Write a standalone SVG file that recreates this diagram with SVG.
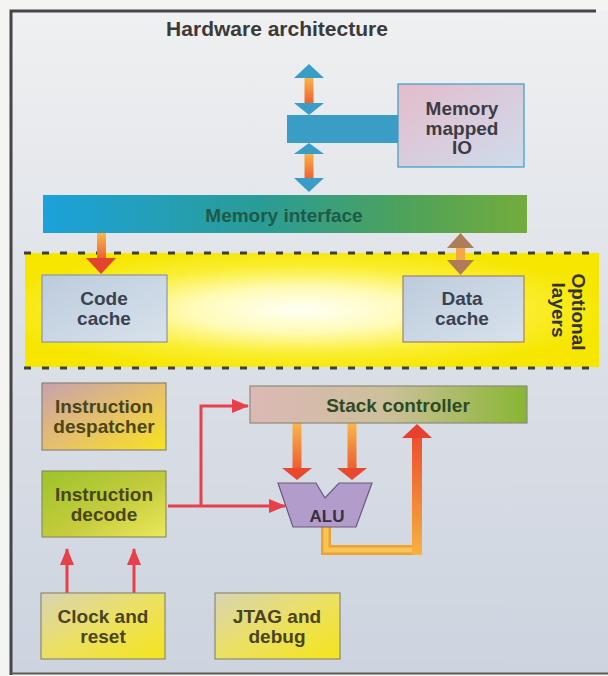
<svg xmlns="http://www.w3.org/2000/svg" width="608" height="676" viewBox="0 0 608 676">
  <style>
    text { font-family: "Liberation Sans", Arial, sans-serif; font-weight: bold; text-anchor: middle; }
    .lbl { font-size: 19px; }
    .box { stroke-width: 1.2; }
    .red { fill: none; stroke: #e8404a; stroke-width: 3; }
    .dash { fill: none; stroke: #3e3e3a; stroke-width: 3.2; stroke-dasharray: 7 11; }
  </style>
  <defs>
    <linearGradient id="bg" x1="0" y1="0" x2="0" y2="1">
      <stop offset="0" stop-color="#eff0f1"/>
      <stop offset="0.5" stop-color="#dce0e7"/>
      <stop offset="1" stop-color="#cdd4df"/>
    </linearGradient>
    <radialGradient id="band" cx="0.48" cy="0.5" r="0.55">
      <stop offset="0" stop-color="#fffff6"/>
      <stop offset="0.35" stop-color="#fffbb8"/>
      <stop offset="0.7" stop-color="#faee30"/>
      <stop offset="1" stop-color="#f6e600"/>
    </radialGradient>
    <linearGradient id="memIf" x1="0" y1="0" x2="1" y2="0">
      <stop offset="0" stop-color="#1ca2da"/>
      <stop offset="0.45" stop-color="#2a9c96"/>
      <stop offset="0.75" stop-color="#4ea25a"/>
      <stop offset="1" stop-color="#74ac3c"/>
    </linearGradient>
    <linearGradient id="mmio" x1="0" y1="0" x2="1" y2="1">
      <stop offset="0" stop-color="#e4bccb"/>
      <stop offset="1" stop-color="#cedcec"/>
    </linearGradient>
    <linearGradient id="cache" x1="0" y1="0" x2="1" y2="1">
      <stop offset="0" stop-color="#bccbdc"/>
      <stop offset="1" stop-color="#d8e2ec"/>
    </linearGradient>
    <linearGradient id="desp" x1="0" y1="0" x2="1" y2="1">
      <stop offset="0" stop-color="#c8a2ac"/>
      <stop offset="0.55" stop-color="#e8c266"/>
      <stop offset="1" stop-color="#f6e41c"/>
    </linearGradient>
    <linearGradient id="decode" x1="0" y1="0" x2="1" y2="1">
      <stop offset="0" stop-color="#9cc42a"/>
      <stop offset="0.55" stop-color="#c4cc3c"/>
      <stop offset="1" stop-color="#ece85c"/>
    </linearGradient>
    <linearGradient id="stack" x1="0" y1="0" x2="1" y2="0">
      <stop offset="0" stop-color="#dcb8b6"/>
      <stop offset="0.5" stop-color="#ccc09a"/>
      <stop offset="1" stop-color="#88b632"/>
    </linearGradient>
    <linearGradient id="yel" x1="0" y1="0" x2="1" y2="1">
      <stop offset="0" stop-color="#d8d4b4"/>
      <stop offset="0.5" stop-color="#ece062"/>
      <stop offset="1" stop-color="#f6e41a"/>
    </linearGradient>
    <linearGradient id="shaft" x1="0" y1="0" x2="0" y2="1">
      <stop offset="0" stop-color="#f8b84a"/>
      <stop offset="1" stop-color="#ec5c30"/>
    </linearGradient>
    <linearGradient id="shaftUp" x1="0" y1="0" x2="0" y2="1">
      <stop offset="0" stop-color="#ec4e30"/>
      <stop offset="1" stop-color="#f6b23e"/>
    </linearGradient>
    <marker id="redHead" viewBox="0 0 17 14" refX="16" refY="7" markerWidth="17" markerHeight="14" markerUnits="userSpaceOnUse" orient="auto">
      <path d="M0,0 L17,7 L0,14 z" fill="#e8404a"/>
    </marker>
  </defs>

  <!-- page and frame -->
  <rect x="0" y="0" width="608" height="676" fill="#f4f4f3"/>
  <rect x="11" y="11" width="597" height="662" fill="url(#bg)"/>
  <path d="M11,675 V11 H596" fill="none" stroke="#454545" stroke-width="3"/>
  <path d="M11,673.5 H608" fill="none" stroke="#5a5a5a" stroke-width="2"/>

  <text x="277" y="36" font-size="21" fill="#3a3a3a">Hardware architecture</text>

  <!-- optional layers band -->
  <g id="optional-layers">
    <rect x="25" y="253" width="574" height="114" fill="url(#band)"/>
    <path class="dash" d="M24,253 H600"/>
    <path class="dash" d="M24,368 H600"/>
    <text class="lbl" transform="translate(578,312) rotate(90)" fill="#333" dy="6">Optional</text>
    <text class="lbl" transform="translate(558,310) rotate(90)" fill="#333" dy="6">layers</text>
  </g>

  <!-- connectors -->
  <g id="connectors">
    <!-- bus to outside world -->
    <rect x="304.5" y="77" width="9" height="28" fill="url(#shaft)"/>
    <polygon points="309,64 324,78 294,78" fill="#3a9dc8"/>
    <polygon points="294,103 324,103 309,115" fill="#3a9dc8"/>
    <!-- bus to memory interface -->
    <rect x="304.5" y="152" width="9" height="28" fill="url(#shaft)"/>
    <polygon points="309,143 324,154 294,154" fill="#3a9dc8"/>
    <polygon points="294,178 324,178 309,192" fill="#3a9dc8"/>

    <!-- memory interface to code cache -->
    <rect x="97" y="233" width="9" height="27" fill="url(#shaft)"/>
    <polygon points="86,258 116,258 101,274" fill="#e2442e"/>

    <!-- memory interface to data cache -->
    <rect x="456" y="245" width="9" height="18" fill="#f2a848"/>
    <polygon points="460.5,233 474,248 447,248" fill="#ae7c58"/>
    <polygon points="447,260 474,260 460.5,275" fill="#ae7c58"/>

    <!-- decode to ALU, and branch to stack controller -->
    <path class="red" d="M168,506 H285" marker-end="url(#redHead)"/>
    <path class="red" d="M201,506 V406 H248" marker-end="url(#redHead)"/>

    <!-- stack controller to ALU operands -->
    <rect x="292.5" y="423" width="9" height="47" fill="url(#shaft)"/>
    <polygon points="282,468 312,468 297,480" fill="#e8482e"/>
    <rect x="347.5" y="423" width="9" height="47" fill="url(#shaft)"/>
    <polygon points="337,468 367,468 352,480" fill="#e8482e"/>

    <!-- ALU result back to stack controller -->
    <path d="M326,520 V550 H417" fill="none" stroke="#eea232" stroke-width="10"/>
    <path d="M326,520 V550 H417" fill="none" stroke="#f8c454" stroke-width="5"/>
    <rect x="412" y="436" width="10" height="119" fill="url(#shaftUp)"/>
    <polygon points="402,438 432,438 417,424" fill="#e8402e"/>

    <!-- clock and reset to decode -->
    <path class="red" d="M67,593 V549" marker-end="url(#redHead)"/>
    <path class="red" d="M134,593 V549" marker-end="url(#redHead)"/>
  </g>

  <!-- nodes -->
  <g id="bus">
    <rect x="287" y="115" width="125" height="28" fill="#3a9dc6"/>
  </g>

  <g id="memory-mapped-io">
    <rect class="box" x="398" y="84" width="126" height="83" fill="url(#mmio)" stroke="#3a9cc8" stroke-width="1.5"/>
    <text class="lbl" x="462" y="115" fill="#3c3c44">Memory</text>
    <text class="lbl" x="462" y="135" fill="#3c3c44">mapped</text>
    <text class="lbl" x="462" y="154" fill="#3c3c44">IO</text>
  </g>

  <g id="memory-interface">
    <rect x="43" y="195" width="484" height="38" fill="url(#memIf)"/>
    <text class="lbl" x="284" y="222" fill="#1e5a48">Memory interface</text>
  </g>

  <g id="code-cache">
    <rect class="box" x="42" y="275" width="125" height="67" fill="url(#cache)" stroke="#8a96a4"/>
    <text class="lbl" x="104" y="305" fill="#3a4250">Code</text>
    <text class="lbl" x="104" y="325" fill="#3a4250">cache</text>
  </g>

  <g id="data-cache">
    <rect class="box" x="403" y="276" width="121" height="66" fill="url(#cache)" stroke="#a4806a"/>
    <text class="lbl" x="462" y="305" fill="#3a4250">Data</text>
    <text class="lbl" x="462" y="325" fill="#3a4250">cache</text>
  </g>

  <g id="instruction-despatcher">
    <rect class="box" x="42" y="383" width="124" height="67" fill="url(#desp)" stroke="#8a8478"/>
    <text class="lbl" x="104" y="413" fill="#4a4618">Instruction</text>
    <text class="lbl" x="104" y="433" fill="#4a4618">despatcher</text>
  </g>

  <g id="instruction-decode">
    <rect class="box" x="42" y="471" width="124" height="66" fill="url(#decode)" stroke="#8a9060"/>
    <text class="lbl" x="104" y="501" fill="#4a4618">Instruction</text>
    <text class="lbl" x="104" y="521" fill="#4a4618">decode</text>
  </g>

  <g id="stack-controller">
    <rect class="box" x="250" y="386" width="277" height="37" fill="url(#stack)" stroke="#8a8a7a"/>
    <text class="lbl" x="398" y="412" fill="#2e4a24">Stack controller</text>
  </g>

  <g id="alu">
    <polygon points="278,483 316,483 325,498 339,483 372,483 356,527 293,527" fill="#b29ccc" stroke="#6a5a7a" stroke-width="1.2"/>
    <text x="327" y="522" font-size="17" fill="#3a3040">ALU</text>
  </g>

  <g id="clock-and-reset">
    <rect class="box" x="41" y="593" width="124" height="66" fill="url(#yel)" stroke="#8a8a72"/>
    <text class="lbl" x="103" y="623" fill="#4a4420">Clock and</text>
    <text class="lbl" x="103" y="643" fill="#4a4420">reset</text>
  </g>

  <g id="jtag-and-debug">
    <rect class="box" x="215" y="593" width="125" height="66" fill="url(#yel)" stroke="#8a8a72"/>
    <text class="lbl" x="277" y="623" fill="#4a4420">JTAG and</text>
    <text class="lbl" x="277" y="643" fill="#4a4420">debug</text>
  </g>
</svg>
